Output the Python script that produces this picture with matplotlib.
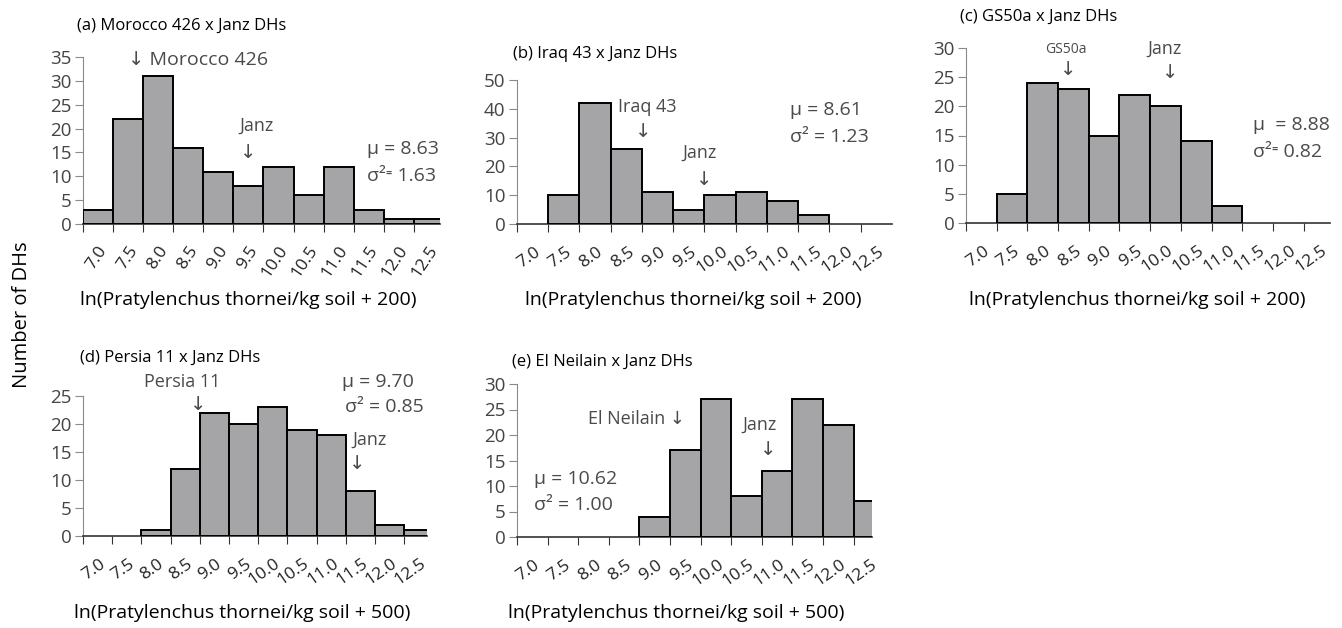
import matplotlib
matplotlib.use("Agg")
import matplotlib.pyplot as plt
import numpy as np

plt.rcParams['font.family'] = ['Open Sans', 'DejaVu Sans']

# bin labels (left edge of each bin, shown under bar)
bin_labels = ["7.0", "7.5", "8.0", "8.5", "9.0", "9.5", "10.0", "10.5",
              "11.0", "11.5", "12.0", "12.5"]

# counts of DHs per bin
counts_a = [3, 22, 31, 16, 11, 8, 12, 6, 12, 3, 1, 1]
counts_b = [0, 10, 42, 26, 11, 5, 10, 11, 8, 3, 0, 0]
counts_c = [0, 5, 24, 23, 15, 22, 20, 14, 3, 0, 0, 0]
counts_d = [0, 0, 1, 12, 22, 20, 23, 19, 18, 8, 2, 1]
counts_e = [0, 0, 0, 0, 4, 17, 27, 8, 13, 27, 22, 7]

titles = ["(a) Morocco 426 x Janz DHs", "(b) Iraq 43 x Janz DHs",
          "(c) GS50a x Janz DHs", "(d) Persia 11 x Janz DHs",
          "(e) El Neilain x Janz DHs"]
xlabel_200 = "ln(Pratylenchus thornei/kg soil + 200)"
xlabel_500 = "ln(Pratylenchus thornei/kg soil + 500)"

W, H = 1342, 628
BAR = "#a5a5a7"
ANN = "#4a4a4a"
FS_ANN = 14

fig = plt.figure(figsize=(W / 100, H / 100), dpi=100)


def px_axes(x0, x1, ytop, ybot):
    return fig.add_axes([x0 / W, 1 - ybot / H, (x1 - x0) / W, (ybot - ytop) / H])


def draw_panel(ax, counts, ymax, ystep, xright, rot, off, xlabel, xlabel_xy,
               title, title_xy):
    idx = np.arange(len(counts))
    c = np.array(counts)
    keep = c > 0
    ax.bar(idx[keep], c[keep], width=1.0, color=BAR, edgecolor="black",
           linewidth=1.4, zorder=3)
    ax.set_xlim(-0.5, xright)
    ax.set_ylim(0, ymax)
    for s in ["top", "right"]:
        ax.spines[s].set_visible(False)
    ax.spines["left"].set_color("#8a8a8a")
    ax.spines["bottom"].set_color("#333333")
    ax.spines["bottom"].set_linewidth(1.2)
    ax.set_yticks(np.arange(0, ymax + 1, ystep))
    ax.tick_params(axis="y", length=6, color="#8a8a8a", labelsize=13.5,
                   labelcolor="#444444", pad=2)
    # ticks between bars, labels under bar centres
    ax.set_xticks(np.arange(len(counts)) - 0.5)
    ax.set_xticklabels([])
    ax.tick_params(axis="x", length=6, color="#333333")
    for i, lab in enumerate(bin_labels):
        ax.annotate(lab, xy=(i + 0.2, 0), xycoords=("data", "axes fraction"),
                    xytext=(0, -off), textcoords="offset points",
                    rotation=rot, rotation_mode="anchor", ha="right", va="center",
                    fontsize=12.5, color="#222222", annotation_clip=False)
    fig.text(xlabel_xy[0] / W, 1 - xlabel_xy[1] / H, xlabel, fontsize=14,
             ha="center", va="center")
    fig.text(title_xy[0] / W, 1 - title_xy[1] / H, title, fontsize=12,
             ha="left", va="center")


# (a)
ax_a = px_axes(83, 440, 57, 224)
draw_panel(ax_a, counts_a, 35, 5, 11.37, 56, 17, xlabel_200, (248, 300),
           titles[0], (77, 26))
ax_a.text(1.0, 34.4, "\u2193 Morocco 426", fontsize=FS_ANN, color=ANN, ha="left", va="center")
ax_a.text(5.27, 20.5, "Janz", fontsize=13, color=ANN, ha="center", va="center")
ax_a.text(5.0, 14.9, "\u2193", fontsize=FS_ANN, color=ANN, ha="center", va="center")
ax_a.text(8.93, 15.7, "\u03bc = 8.63", fontsize=FS_ANN, color=ANN, ha="left", va="center")
ax_a.text(8.93, 10.1, "\u03c3\u00b2\u207c 1.63", fontsize=FS_ANN, color=ANN, ha="left", va="center")

# (b)
ax_b = px_axes(516.7, 892, 80, 224)
draw_panel(ax_b, counts_b, 50, 10, 11.5, 35, 19, xlabel_200, (693, 300),
           titles[1], (513, 54))
ax_b.text(3.69, 40.6, "Iraq 43", fontsize=13, color=ANN, ha="center", va="center")
ax_b.text(3.54, 32, "\u2193", fontsize=FS_ANN, color=ANN, ha="center", va="center")
ax_b.text(5.36, 24.6, "Janz", fontsize=13, color=ANN, ha="center", va="center")
ax_b.text(5.5, 15.3, "\u2193", fontsize=FS_ANN, color=ANN, ha="center", va="center")
ax_b.text(8.23, 39.6, "\u03bc = 8.61", fontsize=FS_ANN, color=ANN, ha="left", va="center")
ax_b.text(8.23, 30.2, "\u03c3\u00b2 = 1.23", fontsize=FS_ANN, color=ANN, ha="left", va="center")

# (c)
ax_c = px_axes(966, 1330, 48, 223)
draw_panel(ax_c, counts_c, 30, 5, 11.36, 35, 19, xlabel_200, (1137, 300),
           titles[2], (960, 17))
ax_c.text(2.76, 29.7, "GS50a", fontsize=10, color=ANN, ha="center", va="center")
ax_c.text(2.82, 26.2, "\u2193", fontsize=FS_ANN, color=ANN, ha="center", va="center")
ax_c.text(5.98, 29.8, "Janz", fontsize=13, color=ANN, ha="center", va="center")
ax_c.text(6.14, 25.7, "\u2193", fontsize=FS_ANN, color=ANN, ha="center", va="center")
ax_c.text(8.85, 16.8, "\u03bc  = 8.88", fontsize=FS_ANN, color=ANN, ha="left", va="center")
ax_c.text(8.85, 12.2, "\u03c3\u00b2\u207c 0.82", fontsize=FS_ANN, color=ANN, ha="left", va="center")

# (d)
ax_d = px_axes(83, 427, 396, 536)
draw_panel(ax_d, counts_d, 25, 5, 11.28, 35, 19, xlabel_500, (242, 613),
           titles[3], (80, 358))
ax_d.text(2.89, 27.5, "Persia 11", fontsize=13, color=ANN, ha="center", va="center")
ax_d.text(3.44, 23.4, "\u2193", fontsize=FS_ANN, color=ANN, ha="center", va="center")
ax_d.text(8.37, 27.5, "\u03bc = 9.70", fontsize=FS_ANN, color=ANN, ha="left", va="center")
ax_d.text(8.47, 23.0, "\u03c3\u00b2 = 0.85", fontsize=FS_ANN, color=ANN, ha="left", va="center")
ax_d.text(9.33, 17.1, "Janz", fontsize=13, color=ANN, ha="center", va="center")
ax_d.text(8.9, 12.9, "\u2193", fontsize=FS_ANN, color=ANN, ha="center", va="center")

# (e)
ax_e = px_axes(517, 872, 384, 537)
draw_panel(ax_e, counts_e, 30, 5, 11.1, 35, 19, xlabel_500, (676, 613),
           titles[4], (512, 362))
ax_e.text(1.82, 23.1, "El Neilain \u2193", fontsize=13, color=ANN, ha="left", va="center")
ax_e.text(7.41, 22.0, "Janz", fontsize=13, color=ANN, ha="center", va="center")
ax_e.text(7.7, 17.0, "\u2193", fontsize=FS_ANN, color=ANN, ha="center", va="center")
ax_e.text(0.06, 11.4, "\u03bc = 10.62", fontsize=FS_ANN, color=ANN, ha="left", va="center")
ax_e.text(0.06, 6.3, "\u03c3\u00b2 = 1.00", fontsize=FS_ANN, color=ANN, ha="left", va="center")

fig.text(22 / W, 1 - 315 / H, "Number of DHs", rotation=90, fontsize=14.5,
         ha="center", va="center")

fig.savefig("out.png", dpi=100)
